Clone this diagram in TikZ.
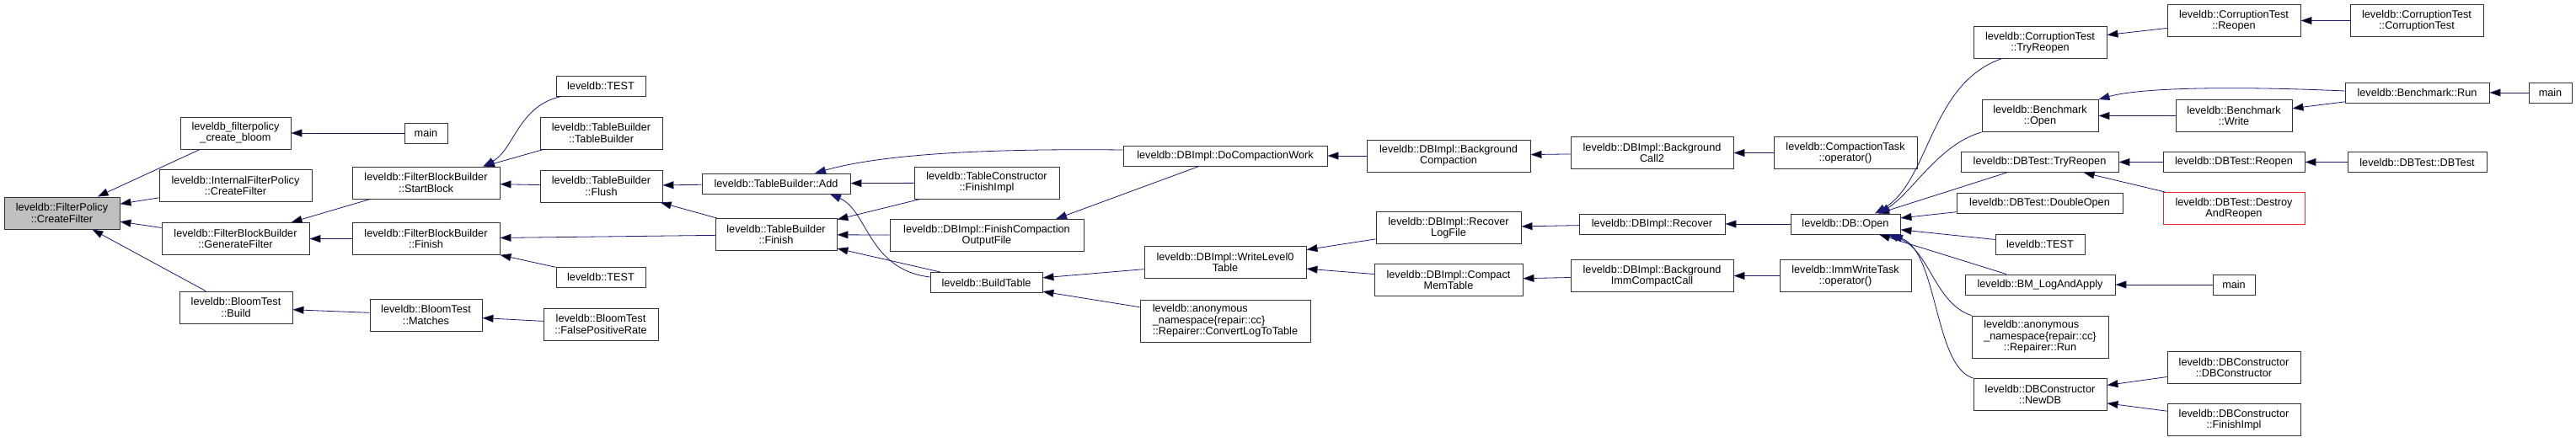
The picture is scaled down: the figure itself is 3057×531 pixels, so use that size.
\documentclass[tikz,border=0pt]{standalone}
\usepackage{fontspec}
\setmainfont{Liberation Sans}
\usepackage{tikz}
\usetikzlibrary{arrows.meta}
\definecolor{edgeblue}{HTML}{191970}
\definecolor{rootgray}{HTML}{BFBFBF}

\begin{document}
\begin{tikzpicture}[x=1pt, y=-1pt, font=\fontsize{12.7}{13.3}\selectfont,
  fn/.style={draw=black!80, line width=0.9pt, fill=white, minimum height=24, inner sep=1pt, align=center},
  two/.style={minimum height=38},
  three/.style={minimum height=50},
  call/.style={draw=edgeblue, line width=0.8pt, arrows={Triangle[length=13pt,width=9pt]-}}]
  \useasboundingbox (0,0) rectangle (3057,531);

  % column 0-2
  \node[fn, two, fill=rootgray, minimum width=137] (cf) at (73.5,253) {leveldb::FilterPolicy\\::CreateFilter};
  \node[fn, two, minimum width=131] (bloom) at (279.5,158) {leveldb\_filterpolicy\\\_create\_bloom};
  \node[fn, two, minimum width=181] (ifp) at (279.5,220.5) {leveldb::InternalFilterPolicy\\::CreateFilter};
  \node[fn, two, minimum width=175] (gf) at (279.5,283.5) {leveldb::FilterBlockBuilder\\::GenerateFilter};
  \node[fn, two, minimum width=134] (build) at (280,365) {leveldb::BloomTest\\::Build};
  \node[fn, minimum width=51] (main1) at (505.5,158) {main};
  \node[fn, two, minimum width=175] (sb) at (505.5,217) {leveldb::FilterBlockBuilder\\::StartBlock};
  \node[fn, two, minimum width=175] (fbbfin) at (505.5,283.5) {leveldb::FilterBlockBuilder\\::Finish};
  \node[fn, two, minimum width=133] (matches) at (505.5,374) {leveldb::BloomTest\\::Matches};

  % column 3-4
  \node[fn, minimum width=106] (test1) at (713,102) {leveldb::TEST};
  \node[fn, two, minimum width=145] (tbtb) at (713.5,158) {leveldb::TableBuilder\\::TableBuilder};
  \node[fn, two, minimum width=145] (flush) at (713.5,221) {leveldb::TableBuilder\\::Flush};
  \node[fn, minimum width=106] (test2) at (713,329) {leveldb::TEST};
  \node[fn, two, minimum width=136] (fpr) at (713,385) {leveldb::BloomTest\\::FalsePositiveRate};
  \node[fn, minimum width=176] (add) at (921,218) {leveldb::TableBuilder::Add};
  \node[fn, two, minimum width=144] (tbfin) at (921,278.5) {leveldb::TableBuilder\\::Finish};

  % column 5-6
  \node[fn, two, minimum width=172] (tcfi) at (1171,217) {leveldb::TableConstructor\\::FinishImpl};
  \node[fn, two, minimum width=230] (fcof) at (1171,279.5) {leveldb::DBImpl::FinishCompaction\\OutputFile};
  \node[fn, minimum width=133] (bt) at (1170.5,335.5) {leveldb::BuildTable};
  \node[fn, minimum width=242] (dcw) at (1454,185) {leveldb::DBImpl::DoCompactionWork};
  \node[fn, two, minimum width=192] (wl0) at (1454,311.5) {leveldb::DBImpl::WriteLevel0\\Table};
  \node[fn, three, align=left, minimum width=202] (cltt) at (1454,381) {leveldb::anonymous\\\_namespace\{repair::cc\}\\::Repairer::ConvertLogToTable};

  % column 7-9
  \node[fn, two, minimum width=194] (bgc) at (1719,185) {leveldb::DBImpl::Background\\Compaction};
  \node[fn, two, minimum width=172] (rlf) at (1719,270.5) {leveldb::DBImpl::Recover\\LogFile};
  \node[fn, two, minimum width=176] (cmt) at (1719,332.5) {leveldb::DBImpl::Compact\\MemTable};
  \node[fn, two, minimum width=193] (bc2) at (1960.5,181.5) {leveldb::DBImpl::Background\\Call2};
  \node[fn, minimum width=173] (rec) at (1960.5,266) {leveldb::DBImpl::Recover};
  \node[fn, two, minimum width=193] (bicc) at (1960.5,327.5) {leveldb::DBImpl::Background\\ImmCompactCall};
  \node[fn, two, minimum width=170] (ctop) at (2190,181.5) {leveldb::CompactionTask\\::operator()};
  \node[fn, minimum width=130] (dbopen) at (2190,266) {leveldb::DB::Open};
  \node[fn, two, minimum width=156] (iwt) at (2190,327.5) {leveldb::ImmWriteTask\\::operator()};

  % callers of DB::Open
  \node[fn, two, minimum width=158] (cttr) at (2421,50.5) {leveldb::CorruptionTest\\::TryReopen};
  \node[fn, two, minimum width=138] (bmopen) at (2421,137.5) {leveldb::Benchmark\\::Open};
  \node[fn, minimum width=187] (dbttr) at (2420.5,192.5) {leveldb::DBTest::TryReopen};
  \node[fn, minimum width=197] (dopen) at (2420.5,241) {leveldb::DBTest::DoubleOpen};
  \node[fn, minimum width=106] (test3) at (2421,290) {leveldb::TEST};
  \node[fn, minimum width=178] (bmla) at (2421,338) {leveldb::BM\_LogAndApply};
  \node[fn, three, minimum width=162] (rrun) at (2421,400) {\rlap{leveldb::anonymous}\phantom{\_namespace\{repair::cc\}}\\\_namespace\{repair::cc\}\\::Repairer::Run};
  \node[fn, two, minimum width=158] (newdb) at (2421,468.5) {leveldb::DBConstructor\\::NewDB};

  % last columns
  \node[fn, two, minimum width=158] (ctreopen) at (2651,24.5) {leveldb::CorruptionTest\\::Reopen};
  \node[fn, two, minimum width=138] (bmwrite) at (2651,137.5) {leveldb::Benchmark\\::Write};
  \node[fn, minimum width=168] (dbtreopen) at (2651,192.5) {leveldb::DBTest::Reopen};
  \node[fn, two, draw=red!85, minimum width=168] (dar) at (2651,247.5) {leveldb::DBTest::Destroy\\AndReopen};
  \node[fn, minimum width=50] (main2) at (2651,338) {main};
  \node[fn, two, minimum width=158] (dbcdbc) at (2651,436.5) {leveldb::DBConstructor\\::DBConstructor};
  \node[fn, two, minimum width=158] (dbcfi) at (2651,498.5) {leveldb::DBConstructor\\::FinishImpl};
  \node[fn, two, minimum width=158] (ctct) at (2868,24.5) {leveldb::CorruptionTest\\::CorruptionTest};
  \node[fn, minimum width=171] (bmrun) at (2868.5,110) {leveldb::Benchmark::Run};
  \node[fn, minimum width=51] (main3) at (3026.5,110) {main};
  \node[fn, minimum width=165] (dbtdbt) at (2868.5,192.5) {leveldb::DBTest::DBTest};

  % straight calls, arrow at the callee
  \path[call]
    (cf) edge (bloom)
    (cf) edge (ifp)
    (cf) edge (gf)
    (cf) edge (build)
    (bloom) edge (main1)
    (gf) edge (sb)
    (gf) edge (fbbfin)
    (build) edge (matches)
    (matches) edge (fpr)
    (sb) edge (tbtb)
    (sb) edge (flush)
    (fbbfin) edge (tbfin)
    (fbbfin) edge (test2)
    (flush) edge (add)
    (flush) edge (tbfin)
    (add) edge (tcfi)
    (tbfin) edge (tcfi)
    (tbfin) edge (fcof)
    (tbfin) edge (bt)
    (bt) edge (wl0)
    (bt) edge (cltt)
    (dcw) edge (bgc)
    (wl0) edge (rlf)
    (wl0) edge (cmt)
    (bgc) edge (bc2)
    (rlf) edge (rec)
    (cmt) edge (bicc)
    (bc2) edge (ctop)
    (rec) edge (dbopen)
    (bicc) edge (iwt)
    (dbopen) edge (dbttr)
    (dbopen) edge (dopen)
    (dbopen) edge (test3)
    (dbopen) edge (bmla)
    (cttr) edge (ctreopen)
    (ctreopen) edge (ctct)
    (bmopen) edge (bmwrite)
    (bmwrite) edge (bmrun)
    (bmrun) edge (main3)
    (dbttr) edge (dbtreopen)
    (dbttr) edge (dar)
    (dbtreopen) edge (dbtdbt)
    (bmla) edge (main2)
    (newdb) edge (dbcdbc)
    (newdb) edge (dbcfi);

  % bent calls
  \draw[call] ([xshift=-20pt]sb.north east) .. controls (610,178) and (615,125) .. ([xshift=7pt]test1.south west);
  \draw[call] ([xshift=46pt]add.north) .. controls (1040,185) and (1150,176) .. ([yshift=7pt]dcw.west);
  \draw[call] ([xshift=64pt]add.south) .. controls (1030,250) and (1030,320) .. ([yshift=6.5pt]bt.west);
  \draw[call] ([xshift=82pt]fcof.north) -- ([xshift=-31pt]dcw.south);
  \draw[call] ([xshift=35pt]dbopen.north) .. controls (2290,215) and (2290,100) .. ([xshift=33pt]cttr.south west);
  \draw[call] ([xshift=40pt]dbopen.north) .. controls (2270,228) and (2300,172) .. (bmopen.south west);
  \draw[call] ([xshift=50pt]dbopen.south) .. controls (2290,295) and (2295,360) .. (rrun.north west);
  \draw[call] ([xshift=55pt]dbopen.south) .. controls (2300,300) and (2295,435) .. (newdb.north west);
  \draw[call] (bmopen.north east) .. controls (2540,104) and (2650,102) .. ([yshift=2pt]bmrun.west);
\end{tikzpicture}
\end{document}
